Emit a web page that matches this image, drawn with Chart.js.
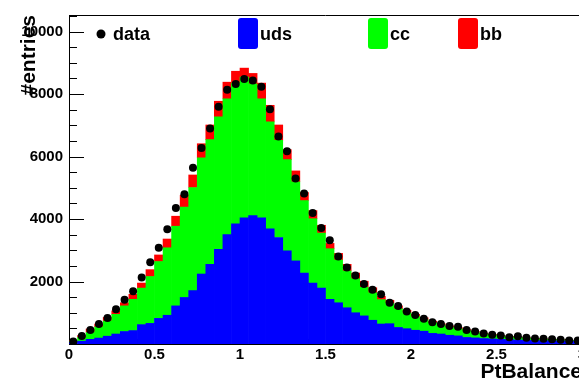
<!DOCTYPE html>
<html>
<head>
<meta charset="utf-8">
<title>PtBalance</title>
<script src="https://cdn.jsdelivr.net/npm/chart.js@4.4.1/dist/chart.umd.min.js"></script>
<style>
  html, body { margin: 0; padding: 0; background: #fff; overflow: hidden; }
  #wrap { width: 579px; height: 386px; overflow: hidden; }
  #box { width: 600px; height: 386px; }
</style>
</head>
<body>
<div id="wrap"><div id="box"><canvas id="ptChart"></canvas></div></div>
<script>
// PtBalance histogram: 60 bins of 0.05 from 0 to 3
const binLow = 0;
const binWidth = 0.05;

// MC components (stacked: uds at bottom, then cc, then bb)
const uds = [50, 90, 150, 190, 250, 320, 400, 430, 620, 660, 820, 920, 1220, 1490, 1710, 2240, 2550, 3030, 3500, 3850,
  4040, 4110, 4040, 3690, 3410, 2980, 2660, 2270, 1950, 1790, 1430, 1320, 1160, 1000, 900, 760, 640, 650, 530, 490,
  440, 410, 340, 320, 280, 260, 210, 195, 175, 165, 150, 140, 130, 120, 110, 105, 100, 95, 90, 85];
const cc = [30, 125, 220, 360, 490, 630, 820, 1000, 1170, 1500, 1820, 2160, 2550, 2890, 3300, 3720, 3990, 4240, 4350, 4500,
  4500, 4220, 3810, 3420, 3110, 2920, 2530, 2320, 2060, 1760, 1620, 1370, 1180, 1090, 920, 880, 780, 650, 600, 510,
  440, 370, 340, 290, 260, 230, 220, 185, 155, 125, 110, 90, 80, 70, 60, 50, 45, 35, 25, 20];
const bb = [30, 55, 110, 90, 110, 110, 100, 160, 160, 220, 210, 280, 320, 380, 400, 450, 470, 500, 530, 380,
  290, 330, 500, 530, 490, 320, 350, 260, 260, 250, 170, 210, 210, 180, 190, 160, 110, 100, 90, 80,
  70, 60, 50, 40, 40, 40, 30, 20, 20, 20, 15, 15, 15, 10, 10, 10, 5, 5, 5, 5];

// measured entries
const data = [80, 260, 450, 640, 830, 1110, 1420, 1690, 2130, 2620, 3080, 3670, 4350, 4790, 5640, 6270, 6900, 7590, 8140, 8320,
  8480, 8430, 8230, 7510, 6640, 6170, 5300, 4820, 4190, 3710, 3320, 2800, 2450, 2190, 1920, 1740, 1590, 1320, 1220, 1040,
  930, 810, 700, 640, 575, 550, 450, 400, 340, 300, 270, 215, 250, 200, 175, 165, 150, 140, 110, 110];

const yTicks = [2000, 4000, 6000, 8000, 10000];
const xTicks = [0, 0.5, 1, 1.5, 2, 2.5, 3];

const centres = data.map((_, i) => +(binLow + (i + 0.5) * binWidth).toFixed(3));
const toPoints = arr => arr.map((v, i) => ({ x: centres[i], y: v }));

const FONT = "'Liberation Sans', Helvetica, Arial, sans-serif";

// ROOT-style ticks pointing into the frame, drawn underneath the histograms
const insideTicks = {
  id: 'insideTicks',
  beforeDatasetsDraw(chart) {
    const { ctx, chartArea: a, scales: { x, y } } = chart;
    ctx.save();
    ctx.strokeStyle = '#000';
    ctx.lineWidth = 1;
    ctx.beginPath();
    for (let v = 0; v <= y.max; v += 500) {
      const py = Math.round(y.getPixelForValue(v)) + 0.5;
      const len = v % 2000 === 0 ? 15 : 8;
      ctx.moveTo(a.left, py);
      ctx.lineTo(a.left + len, py);
    }
    for (let k = 0; k <= 30; k++) {
      const px = Math.round(x.getPixelForValue(k / 10)) + 0.5;
      const len = k % 5 === 0 ? 10 : 5;
      ctx.moveTo(px, a.bottom);
      ctx.lineTo(px, a.bottom - len);
    }
    ctx.stroke();
    // top edge of the frame
    ctx.beginPath();
    ctx.moveTo(a.left, a.top + 0.5);
    ctx.lineTo(a.right, a.top + 0.5);
    ctx.stroke();
    ctx.restore();
  }
};

// legend row along the top of the frame
const topLegend = {
  id: 'topLegend',
  afterDraw(chart) {
    const { ctx } = chart;
    ctx.save();
    ctx.font = 'bold 18px ' + FONT;
    ctx.textBaseline = 'middle';
    ctx.fillStyle = '#000';

    ctx.beginPath();
    ctx.arc(101, 34, 4.5, 0, Math.PI * 2);
    ctx.fill();
    ctx.fillText(chart.data.datasets[0].label, 113, 35);

    const boxes = [
      { ds: 1, x: 238 },
      { ds: 2, x: 368 },
      { ds: 3, x: 458 }
    ];
    boxes.forEach(b => {
      const ds = chart.data.datasets[b.ds];
      ctx.fillStyle = ds.backgroundColor;
      ctx.beginPath();
      ctx.roundRect(b.x, 18, 20, 31, 3);
      ctx.fill();
      ctx.fillStyle = '#000';
      ctx.fillText(ds.label, b.x + 22, 35);
    });
    ctx.restore();
  }
};

new Chart(document.getElementById('ptChart'), {
  type: 'bar',
  data: {
    datasets: [
      {
        type: 'scatter',
        label: 'data',
        data: toPoints(data),
        backgroundColor: '#000',
        borderColor: '#000',
        borderWidth: 0,
        pointRadius: 4,
        order: 0
      },
      { label: 'uds', data: toPoints(uds), backgroundColor: '#0000ff', stack: 'mc', order: 1 },
      { label: 'cc', data: toPoints(cc), backgroundColor: '#00ff00', stack: 'mc', order: 1 },
      { label: 'bb', data: toPoints(bb), backgroundColor: '#ff0000', stack: 'mc', order: 1 }
    ]
  },
  options: {
    responsive: true,
    maintainAspectRatio: false,
    animation: false,
    layout: { padding: { top: 9, right: 18, left: 0, bottom: 0 } },
    datasets: {
      bar: { categoryPercentage: 1, barPercentage: 1, borderWidth: 0 }
    },
    plugins: {
      legend: { display: false },
      tooltip: { enabled: false }
    },
    scales: {
      x: {
        type: 'linear',
        offset: false,
        min: 0,
        max: 3,
        afterBuildTicks: s => { s.ticks = xTicks.map(v => ({ value: v })); },
        afterFit: s => { s.height = 42; },
        grid: { display: false, drawTicks: false, offset: false },
        border: { display: true, color: '#000', width: 1 },
        ticks: {
          padding: 2,
          color: '#000',
          font: { family: FONT, size: 15, weight: 'bold' },
          callback: v => String(v)
        },
        title: {
          display: true,
          text: 'PtBalance',
          align: 'end',
          color: '#000',
          font: { family: FONT, size: 21, weight: 'bold' },
          padding: { top: 0, bottom: 1 }
        }
      },
      y: {
        min: 0,
        max: 10530,
        afterBuildTicks: s => { s.ticks = yTicks.map(v => ({ value: v })); },
        afterFit: s => { s.width = 69; },
        grid: { display: false, drawTicks: false },
        border: { display: true, color: '#000', width: 1 },
        ticks: {
          padding: 6,
          color: '#000',
          font: { family: FONT, size: 15, weight: 'bold' },
          callback: v => String(v)
        },
        title: {
          display: true,
          text: '#entries',
          align: 'end',
          color: '#000',
          font: { family: FONT, size: 21, weight: 'bold' },
          padding: { top: 17, bottom: 0 }
        }
      }
    }
  },
  plugins: [insideTicks, topLegend]
});
</script>
</body>
</html>
